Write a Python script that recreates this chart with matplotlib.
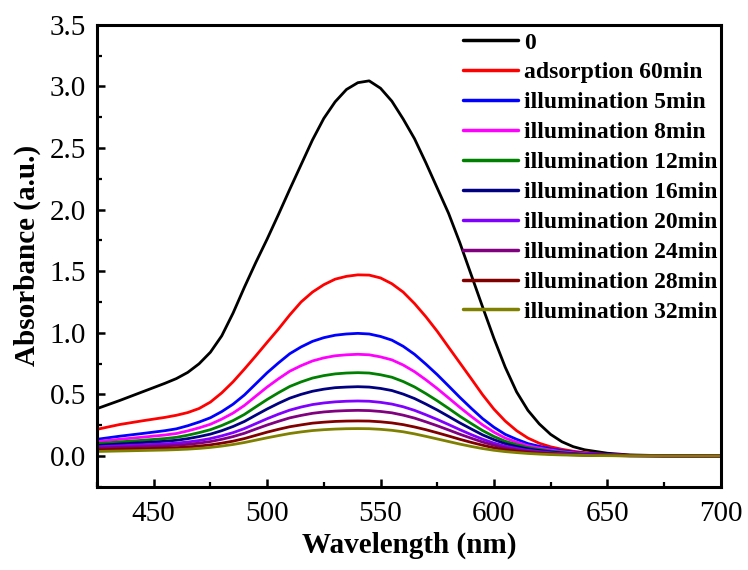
import matplotlib
matplotlib.use("Agg")
import matplotlib.pyplot as plt
from matplotlib.ticker import MultipleLocator

plt.rcParams['font.family'] = ['Liberation Serif', 'DejaVu Serif']

wavelength = [425, 435, 445, 455, 460, 465, 470, 475, 480, 485, 490, 495, 500,
              505, 510, 515, 520, 525, 530, 535, 540, 545, 550, 555, 560, 565,
              570, 575, 580, 585, 590, 595, 600, 605, 610, 615, 620, 625, 630,
              635, 640, 650, 660, 675, 700]

abs_0 = [0.384, 0.450, 0.520, 0.590, 0.628, 0.678, 0.748, 0.842, 0.975, 1.160,
         1.370, 1.570, 1.760, 1.960, 2.165, 2.365, 2.565, 2.740, 2.875, 2.975,
         3.030, 3.045, 2.985, 2.880, 2.735, 2.575, 2.380, 2.175, 1.970, 1.730,
         1.470, 1.210, 0.955, 0.720, 0.520, 0.370, 0.260, 0.175, 0.115, 0.075,
         0.050, 0.022, 0.008, 0.002, 0.000]

abs_ads60 = [0.216, 0.255, 0.285, 0.313, 0.330, 0.352, 0.385, 0.437, 0.512, 0.602,
             0.705, 0.812, 0.922, 1.030, 1.145, 1.250, 1.330, 1.390, 1.435, 1.458,
             1.470, 1.468, 1.445, 1.398, 1.330, 1.237, 1.130, 1.012, 0.883, 0.755,
             0.627, 0.497, 0.380, 0.283, 0.205, 0.145, 0.103, 0.074, 0.054, 0.038,
             0.027, 0.012, 0.005, 0.001, 0.000]

abs_ill5 = [0.135, 0.160, 0.182, 0.205, 0.220, 0.245, 0.275, 0.310, 0.360, 0.420,
            0.495, 0.585, 0.675, 0.755, 0.830, 0.885, 0.930, 0.960, 0.980, 0.990,
            0.995, 0.990, 0.970, 0.940, 0.890, 0.825, 0.745, 0.660, 0.568, 0.475,
            0.387, 0.303, 0.233, 0.175, 0.135, 0.100, 0.078, 0.058, 0.043, 0.031,
            0.022, 0.010, 0.004, 0.001, 0.000]

abs_ill8 = [0.117, 0.135, 0.152, 0.170, 0.182, 0.203, 0.228, 0.257, 0.299, 0.348,
            0.410, 0.485, 0.559, 0.626, 0.688, 0.733, 0.771, 0.796, 0.813, 0.821,
            0.825, 0.821, 0.804, 0.780, 0.738, 0.684, 0.618, 0.547, 0.471, 0.394,
            0.321, 0.252, 0.193, 0.145, 0.112, 0.083, 0.064, 0.048, 0.035, 0.026,
            0.018, 0.008, 0.003, 0.001, 0.000]

abs_ill12 = [0.100, 0.114, 0.127, 0.141, 0.151, 0.168, 0.189, 0.213, 0.247, 0.287,
             0.337, 0.398, 0.458, 0.513, 0.564, 0.601, 0.632, 0.652, 0.666, 0.673,
             0.676, 0.673, 0.659, 0.639, 0.604, 0.560, 0.506, 0.448, 0.386, 0.322,
             0.263, 0.206, 0.158, 0.119, 0.092, 0.068, 0.053, 0.039, 0.029, 0.021,
             0.015, 0.007, 0.003, 0.001, 0.000]

abs_ill16 = [0.085, 0.097, 0.108, 0.119, 0.127, 0.140, 0.157, 0.177, 0.205, 0.239,
             0.280, 0.331, 0.381, 0.427, 0.469, 0.500, 0.525, 0.542, 0.554, 0.559,
             0.562, 0.559, 0.548, 0.531, 0.502, 0.466, 0.421, 0.373, 0.321, 0.268,
             0.219, 0.171, 0.132, 0.099, 0.076, 0.057, 0.044, 0.033, 0.024, 0.017,
             0.012, 0.006, 0.002, 0.001, 0.000]

abs_ill20 = [0.074, 0.082, 0.090, 0.098, 0.104, 0.113, 0.125, 0.141, 0.163, 0.189,
             0.222, 0.262, 0.302, 0.339, 0.372, 0.397, 0.417, 0.430, 0.439, 0.444,
             0.446, 0.444, 0.435, 0.421, 0.399, 0.370, 0.334, 0.296, 0.255, 0.213,
             0.173, 0.136, 0.104, 0.079, 0.061, 0.045, 0.035, 0.026, 0.019, 0.014,
             0.010, 0.004, 0.002, 0.000, 0.000]

abs_ill24 = [0.064, 0.070, 0.076, 0.082, 0.087, 0.094, 0.104, 0.117, 0.135, 0.157,
             0.184, 0.218, 0.251, 0.281, 0.309, 0.329, 0.346, 0.357, 0.364, 0.368,
             0.370, 0.368, 0.361, 0.350, 0.331, 0.307, 0.277, 0.245, 0.211, 0.176,
             0.144, 0.113, 0.087, 0.065, 0.050, 0.037, 0.029, 0.021, 0.016, 0.011,
             0.008, 0.004, 0.001, 0.000, 0.000]

abs_ill28 = [0.050, 0.055, 0.059, 0.064, 0.067, 0.073, 0.080, 0.090, 0.104, 0.120,
             0.141, 0.167, 0.193, 0.216, 0.237, 0.252, 0.266, 0.274, 0.280, 0.283,
             0.284, 0.283, 0.277, 0.268, 0.254, 0.235, 0.213, 0.188, 0.162, 0.135,
             0.110, 0.087, 0.066, 0.050, 0.039, 0.029, 0.022, 0.016, 0.012, 0.009,
             0.006, 0.003, 0.001, 0.000, 0.000]

abs_ill32 = [0.036, 0.040, 0.044, 0.048, 0.051, 0.055, 0.061, 0.069, 0.080, 0.093,
             0.109, 0.128, 0.147, 0.165, 0.182, 0.195, 0.206, 0.213, 0.218, 0.221,
             0.222, 0.221, 0.216, 0.208, 0.196, 0.179, 0.159, 0.138, 0.117, 0.096,
             0.077, 0.060, 0.046, 0.035, 0.027, 0.020, 0.015, 0.011, 0.008, 0.006,
             0.004, 0.002, 0.001, 0.000, 0.000]

labels = ['0', 'adsorption 60min', 'illumination 5min', 'illumination 8min',
          'illumination 12min', 'illumination 16min', 'illumination 20min',
          'illumination 24min', 'illumination 28min', 'illumination 32min']
series = [abs_0, abs_ads60, abs_ill5, abs_ill8, abs_ill12, abs_ill16,
          abs_ill20, abs_ill24, abs_ill28, abs_ill32]
colors = ['#000000', '#ff0000', '#0000ff', '#ff00ff', '#008000', '#000080',
          '#8000ff', '#800080', '#800000', '#808000']

fig = plt.figure(figsize=(7.48, 5.70), dpi=100)
ax = fig.add_axes([0.1297, 0.1461, 0.8338, 0.8104])

for y, c, lab in zip(series, colors, labels):
    ax.plot(wavelength, y, color=c, lw=2.0, label=lab,
            solid_joinstyle='round', solid_capstyle='round')

ax.set_xlim(425, 700)
ax.set_ylim(-0.25, 3.5)
ax.xaxis.set_major_locator(MultipleLocator(50))
ax.xaxis.set_minor_locator(MultipleLocator(25))
ax.yaxis.set_major_locator(MultipleLocator(0.5))
ax.yaxis.set_minor_locator(MultipleLocator(0.25))
ax.yaxis.set_major_formatter(plt.FormatStrFormatter('%.1f'))

for s in ax.spines.values():
    s.set_linewidth(2.2)
ax.tick_params(which='both', direction='in', top=False, right=False)
ax.tick_params(which='major', length=6, width=1.8, labelsize=21, pad=8)
ax.tick_params(which='minor', length=3.5, width=1.6)
ax.tick_params(axis='x', which='major', pad=10)

ax.set_xlabel('Wavelength (nm)', fontsize=21, fontweight='bold', labelpad=4)
ax.set_ylabel('Absorbance (a.u.)', fontsize=21, fontweight='bold', labelpad=6)

leg = ax.legend(loc='upper left', bbox_to_anchor=(463.3 / 748, 1 - 32 / 570),
                bbox_transform=fig.transFigure, frameon=False,
                prop={'family': 'Liberation Serif', 'weight': 'bold', 'size': 17},
                handlelength=2.33, handletextpad=0.25, labelspacing=0.355,
                borderpad=0, borderaxespad=0)
for line in leg.get_lines():
    line.set_linewidth(2.5)

fig.savefig('out.png', dpi=100)
